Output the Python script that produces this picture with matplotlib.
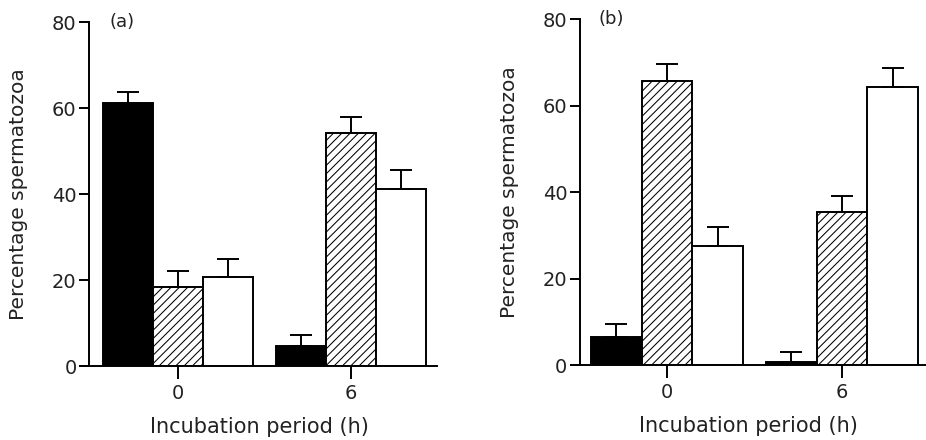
import matplotlib
matplotlib.use("Agg")
import matplotlib.pyplot as plt
import numpy as np

plt.rcParams['font.family'] = ['DejaVu Sans']
plt.rcParams['hatch.color'] = '#7a7a7a'
plt.rcParams['hatch.linewidth'] = 0.75

groups = ['0', '6']
xlabel = 'Incubation period (h)'
ylabel = 'Percentage spermatozoa'
panel_labels = ['(a)', '(b)']

a_black = [61.2, 4.7]
a_black_err = [2.6, 2.6]
a_hatched = [18.3, 54.3]
a_hatched_err = [3.8, 3.7]
a_white = [20.6, 41.1]
a_white_err = [4.4, 4.5]

b_black = [6.5, 0.8]
b_black_err = [2.9, 2.3]
b_hatched = [65.7, 35.3]
b_hatched_err = [3.9, 3.7]
b_white = [27.6, 64.3]
b_white_err = [4.4, 4.4]

yticks = [0, 20, 40, 60, 80]

fig = plt.figure(figsize=(9.26, 4.4), dpi=100)
ax_a = fig.add_axes([82/926, 74/440, 355/926, 344/440])
ax_b = fig.add_axes([571/926, 75/440, 355/926, 345.7/440])

txtcol = '#222222'
lw = 1.4
bw = 0.289

def draw(ax, series, errs, label, xlim, spine_x, ylabel_x):
    x = np.arange(len(groups))
    styles = [dict(color='black', edgecolor='black'),
              dict(color='white', edgecolor='black', hatch='////'),
              dict(color='white', edgecolor='black')]
    offsets = [-bw, 0, bw]
    for vals, err, st, off in zip(series, errs, styles, offsets):
        ax.bar(x + off, vals, width=bw, linewidth=lw, zorder=2, **st)
        ax.errorbar(x + off, vals, yerr=[np.zeros(len(vals)), err], fmt='none',
                    ecolor='black', elinewidth=lw, capsize=8, capthick=lw, zorder=3)
    ax.set_xlim(*xlim)
    ax.set_ylim(0, 80)
    ax.spines['top'].set_visible(False)
    ax.spines['right'].set_visible(False)
    ax.spines['left'].set_position(('data', spine_x))
    ax.spines['left'].set_bounds(0, 80)
    for s in ['left', 'bottom']:
        ax.spines[s].set_linewidth(lw)
    ax.set_yticks(yticks)
    ax.set_xticks(x)
    ax.set_xticklabels(groups)
    ax.tick_params(axis='y', length=7, width=lw, pad=2, labelsize=14, labelcolor=txtcol)
    ax.tick_params(axis='x', length=9, width=lw, pad=4, labelsize=14, labelcolor=txtcol)
    ax.set_xlabel(xlabel, fontsize=15, color=txtcol, labelpad=10)
    ax.set_ylabel(ylabel, fontsize=14.5, color=txtcol)
    ax.yaxis.set_label_coords(ylabel_x, 0.5)
    ax.text(0.078, 1.0, label, transform=ax.transAxes, fontsize=13,
            color=txtcol, va='center', ha='left')
    ax.patch.set_alpha(0)

draw(ax_a, [a_black, a_hatched, a_white], [a_black_err, a_hatched_err, a_white_err],
     panel_labels[0], (-0.555, 1.497), -0.514, (28 - 82) / 355)
draw(ax_b, [b_black, b_hatched, b_white], [b_black_err, b_hatched_err, b_white_err],
     panel_labels[1], (-0.549, 1.48), -0.498, (519 - 571) / 355)

fig.savefig('out.png', dpi=100)
